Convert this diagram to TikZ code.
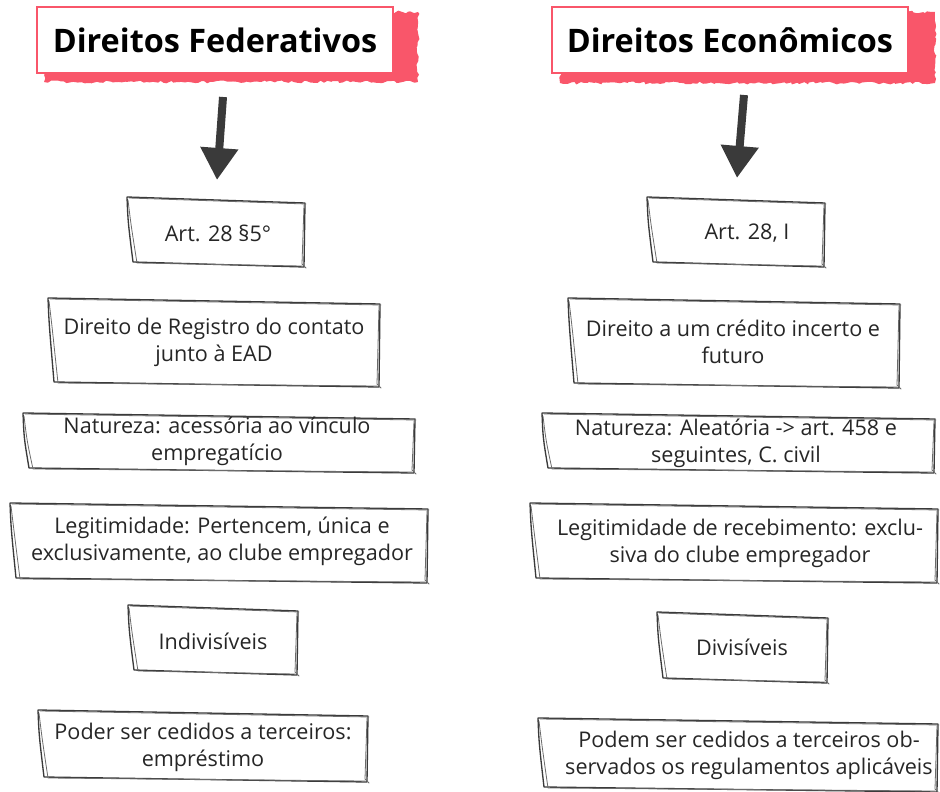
\documentclass[tikz,border=0pt]{standalone}
\usepackage{fontspec}
\setmainfont{Open Sans}
\usetikzlibrary{arrows.meta,decorations.pathmorphing}
\definecolor{skred}{HTML}{F9566A}
\definecolor{skink}{HTML}{3A3A3A}
\definecolor{sktext}{HTML}{262626}
\tikzset{
  skline/.style={draw=skink, line width=1pt, line join=round, line cap=round},
  skline2/.style={draw=skink!75, line width=0.6pt, line join=round, line cap=round},
  redback/.style={fill=skred, decorate, decoration={random steps, segment length=2.5pt, amplitude=1.1pt}},
  titlebox/.style={draw=skred, fill=white, line width=1.3pt, inner sep=0pt, text=black,
     font=\fontsize{24.3}{28}\selectfont\bfseries, minimum height=49.5pt},
  boxtext/.style={align=center, text=sktext, font=\fontsize{16.2}{20.3}\selectfont, inner sep=0pt},
  bigarrow/.style={draw=skink, line width=6pt, -{Triangle[width=27pt,length=24pt]}}
}
\newcommand{\skbox}[4]{%
  \draw[skline] (#1,#2) -- ({#3},{#2+6}) -- ({#3-1},{#4}) -- ({#1+6},{#4-5})
     .. controls ({#1+1},{#2+25}) .. (#1,#2);
  \draw[skline2] ({#1+2},{#2+1}) -- ({#3+1},{#2+7});
  \draw[skline2] ({#1+1},{#2+3}) .. controls ({#1+4},{#2+28}) .. ({#1+10},{#4-4})
     -- ({#3-3},{#4-1});
  \draw[skline2] ({#3-1},{#2+8}) -- ({#3-3},{#4-3}) -- ({#3+1},{#4+1});
}
\begin{document}
\begin{tikzpicture}[x=0.75pt,y=-0.75pt]
\useasboundingbox (0,0) rectangle (940,792);

% ---------- titles
\path[redback] (44,12) rectangle (418,82);
\node[titlebox, minimum width=267pt] (fedT) at (215,40) {Direitos Federativos};
\path[redback] (560,12) rectangle (935,83);
\node[titlebox, minimum width=267pt] (ecoT) at (730,40) {Direitos Econômicos};

% ---------- arrows
\coordinate (fedA0) at (223,97);
\coordinate (fedA1) at (217,180);
\coordinate (ecoA0) at (744,95);
\coordinate (ecoA1) at (737,178);
\draw[bigarrow] (fedA0) -- (fedA1);
\draw[bigarrow] (ecoA0) -- (ecoA1);

% ---------- left column
\skbox{127}{197}{305}{267}
\node[boxtext] (fA1) at (218,233) {Art. 28 §5°};
\skbox{48}{298}{380}{387}
\node[boxtext] (fA2) at (214,342) {Direito de Registro do contato\\junto à EAD};
\skbox{23}{413}{415}{473}
\node[boxtext] (fA3) at (217,441) {Natureza: acessória ao vínculo\\empregatício};
\skbox{10}{503}{428}{583}
\node[boxtext] (fA4) at (222,541) {Legitimidade: Pertencem, única e\\exclusivamente, ao clube empregador};
\skbox{128}{605}{298}{675}
\node[boxtext] (fA5) at (213,641) {Indivisíveis};
\skbox{38}{710}{368}{782}
\node[boxtext] (fA6) at (203,747) {Poder ser cedidos a terceiros:\\empréstimo};

% ---------- right column
\skbox{647}{197}{825}{267}
\node[boxtext] (eA1) at (747,233) {Art. 28, I};
\skbox{568}{298}{900}{388}
\node[boxtext] (eA2) at (733,342) {Direito a um crédito incerto e\\futuro};
\skbox{542}{413}{935}{473}
\node[boxtext] (eA3) at (736,443) {Natureza: Aleatória -> art. 458 e\\seguintes, C. civil};
\skbox{530}{503}{938}{583}
\node[boxtext] (eA4) at (740,543) {Legitimidade de recebimento: exclu-\\siva do clube empregador};
\skbox{657}{612}{828}{683}
\node[boxtext] (eA5) at (742,647) {Divisíveis};
\skbox{538}{718}{938}{792}
\node[boxtext] (eA6) at (749,755) {Podem ser cedidos a terceiros ob-\\servados os regulamentos aplicáveis};
\end{tikzpicture}
\end{document}
